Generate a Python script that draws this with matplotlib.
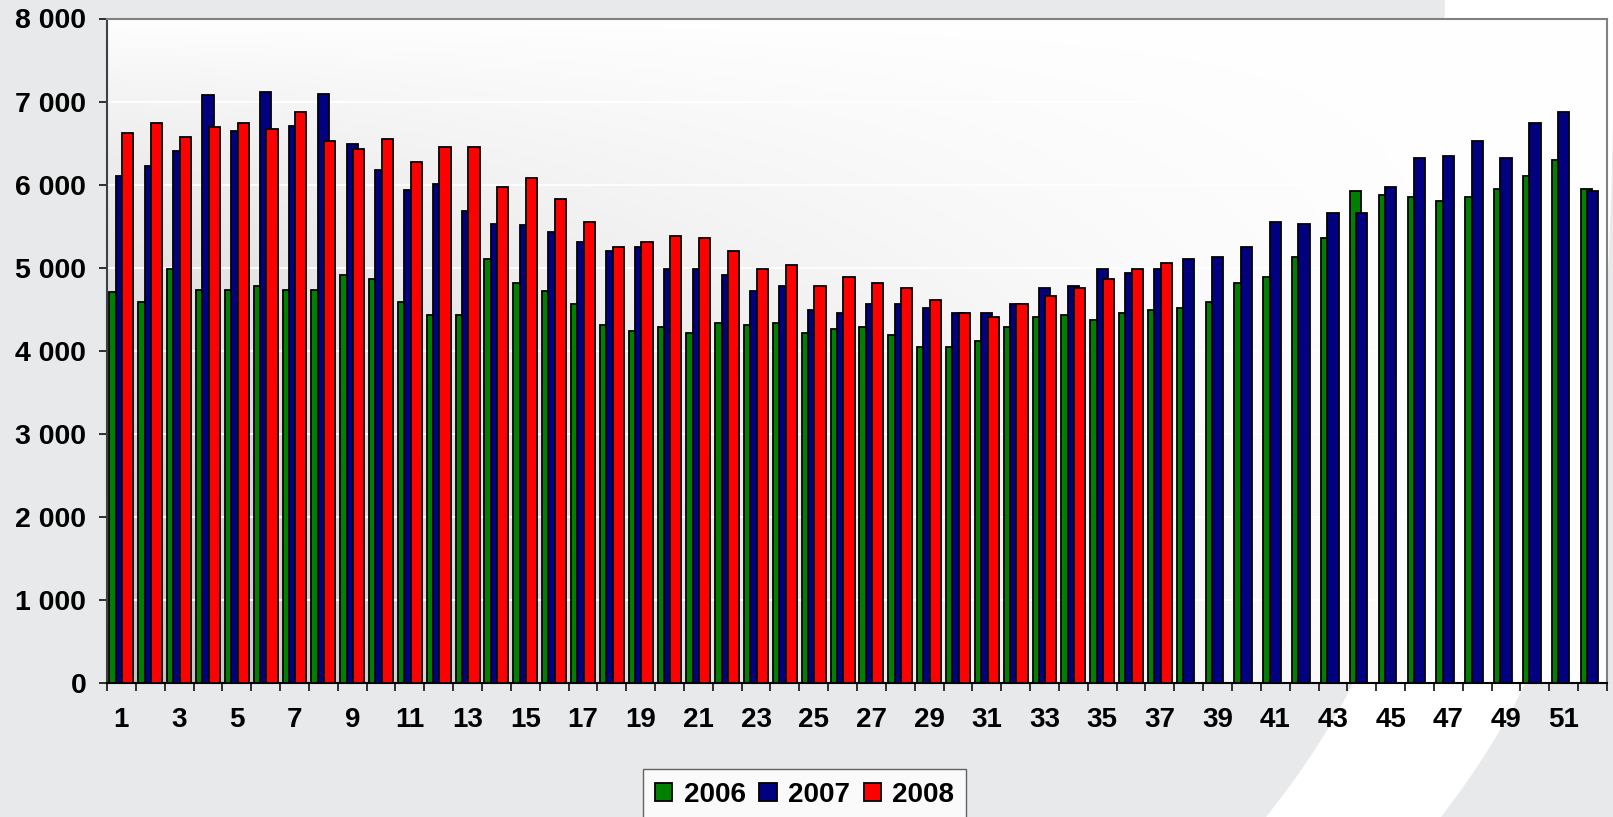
import numpy as np
import matplotlib
matplotlib.use("Agg")
import matplotlib.pyplot as plt
from matplotlib.path import Path
from matplotlib.patches import PathPatch

plt.rcParams['font.family'] = ['Liberation Sans', 'DejaVu Sans']
plt.rcParams['font.weight'] = 'bold'

# weekly values
weeks = list(range(1, 53))
y2006 = [4710, 4590, 4980, 4735, 4735, 4780, 4735, 4735, 4910, 4860,
         4590, 4435, 4435, 5105, 4810, 4715, 4560, 4310, 4240, 4285,
         4210, 4340, 4310, 4340, 4210, 4260, 4285, 4190, 4040, 4040,
         4115, 4285, 4410, 4435, 4365, 4460, 4490, 4510, 4585, 4810,
         4885, 5130, 5355, 5925, 5875, 5850, 5800, 5850, 5950, 6100,
         6300, 5950]
y2007 = [6100, 6225, 6405, 7075, 6650, 7120, 6700, 7095, 6495, 6175,
         5930, 6005, 5680, 5530, 5510, 5430, 5305, 5205, 5255, 4985,
         4985, 4910, 4715, 4780, 4490, 4460, 4560, 4560, 4510, 4460,
         4460, 4560, 4760, 4780, 4980, 4935, 4980, 5105, 5130, 5255,
         5550, 5530, 5655, 5655, 5975, 6325, 6345, 6520, 6325, 6745,
         6870, 5925]
y2008 = [6625, 6745, 6575, 6695, 6745, 6670, 6870, 6520, 6425, 6550,
         6275, 6450, 6450, 5975, 6075, 5830, 5555, 5255, 5305, 5385,
         5355, 5205, 4980, 5035, 4780, 4885, 4810, 4760, 4610, 4460,
         4410, 4560, 4655, 4760, 4860, 4980, 5055]
series = ['2006', '2007', '2008']
colors = ['#008000', '#000080', '#FF0000']
yticks = [0, 1000, 2000, 3000, 4000, 5000, 6000, 7000, 8000]

W, H = 1613, 817
fig = plt.figure(figsize=(W / 100, H / 100), dpi=100)
fig.patch.set_facecolor('#e8e9eb')

# white swoosh of the slide template behind the chart
def fpt(x, y):
    return (x / W, 1 - y / H)

verts = [fpt(1445, -5), fpt(1440, 450), fpt(1425, 620), fpt(1262, 822),
         fpt(1437, 822),
         fpt(1595, 620), fpt(1610, 450), fpt(1615, -5),
         fpt(1445, -5)]
codes = [Path.MOVETO, Path.CURVE4, Path.CURVE4, Path.CURVE4,
         Path.LINETO,
         Path.CURVE4, Path.CURVE4, Path.CURVE4,
         Path.CLOSEPOLY]
fig.patches.append(PathPatch(Path(verts, codes), facecolor='white', edgecolor='none',
                             transform=fig.transFigure, zorder=-1))

ax = fig.add_axes([107 / W, 1 - 683 / H, 1500 / W, 664.5 / H])
ax.set_facecolor('none')

# plot area fill: white at top, greying towards the lower left
xf = np.linspace(0, 1, 300)
yb = np.linspace(0, 1, 200)
XX, YY = np.meshgrid(xf, yb)
grad = 1 - 0.25 * (1 - XX) ** 1.5 * YY ** 0.8
ax.imshow(np.dstack([grad] * 3), extent=[0, 1, 0, 1], transform=ax.transAxes,
          aspect='auto', zorder=0, interpolation='bilinear')

x = np.array(weeks, dtype=float)
offs = [-0.22, 0.0, 0.22]
data = [y2006, y2007, y2008]
for i, (name, vals, c) in enumerate(zip(series, data, colors)):
    ax.bar(x[:len(vals)] + offs[i], vals, width=0.39, color=c, edgecolor='black',
           linewidth=1.3, label=name, zorder=2 + i)

ax.set_xlim(0.5, 52.5)
ax.set_ylim(0, 8000)
ax.set_yticks(yticks)
ax.set_yticklabels([f"{v:,}".replace(",", " ") for v in yticks])
ax.yaxis.grid(True, color='white', linewidth=1.3, zorder=1)
ax.set_axisbelow(True)

ax.set_xticks(np.arange(0.5, 53, 1))
ax.set_xticklabels([])
ax.set_xticks(weeks[::2], minor=True)
ax.set_xticklabels([str(w) for w in weeks[::2]], minor=True)
ax.tick_params(axis='x', which='major', length=6, width=1.3, color='#202020', direction='out')
ax.tick_params(axis='x', which='minor', length=0, pad=17, labelsize=20)
ax.tick_params(axis='y', length=6, width=1.3, color='#202020', pad=9, labelsize=20.5)

for side in ['top', 'right']:
    ax.spines[side].set_color('#808080')
    ax.spines[side].set_linewidth(1.5)
ax.spines['left'].set_color('#404040')
ax.spines['left'].set_linewidth(1.5)
ax.spines['bottom'].set_color('black')
ax.spines['bottom'].set_linewidth(1.5)

leg = ax.legend(loc='center', bbox_to_anchor=(0.4988, 0.027), bbox_transform=fig.transFigure,
                ncol=3, fontsize=20, frameon=True, fancybox=False, handlelength=0.62,
                handleheight=0.62, handletextpad=0.4, columnspacing=0.5, borderpad=0.45,
                borderaxespad=0)
leg.get_frame().set_edgecolor('#404040')
leg.get_frame().set_linewidth(1.0)
leg.get_frame().set_facecolor('white')

fig.savefig('out.png', dpi=100, facecolor=fig.get_facecolor())
